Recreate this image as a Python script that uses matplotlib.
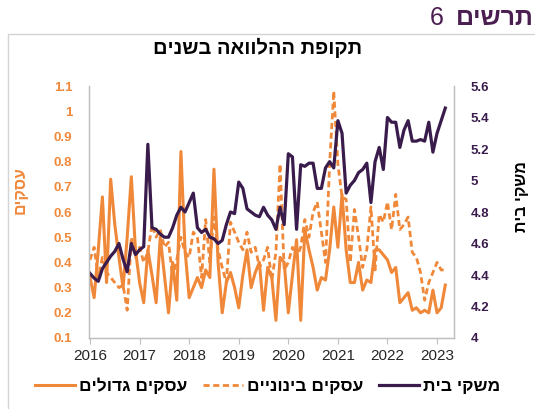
import numpy as np
import matplotlib
matplotlib.use("Agg")
import matplotlib.pyplot as plt
from matplotlib.patches import Rectangle

plt.rcParams['font.family'] = ['Liberation Sans', 'DejaVu Sans']

# matplotlib has no bidi support, so hebrew strings are stored reversed (visual order)
def heb(s):
    return s[::-1]

########################### DATA ###########################
START_YEAR = 2016
years = [2016, 2017, 2018, 2019, 2020, 2021, 2022, 2023]

# households (right axis), monthly Jan 2016 - Mar 2023
households = [4.41, 4.38, 4.36, 4.44, 4.48, 4.52, 4.55, 4.60, 4.50, 4.42, 4.60, 4.53,
              4.56, 4.58, 5.23, 4.70, 4.69, 4.66, 4.64, 4.64, 4.70, 4.78, 4.83, 4.80,
              4.86, 4.92, 4.70, 4.67, 4.69, 4.64, 4.63, 4.60, 4.62, 4.72, 4.80, 4.79,
              4.99, 4.95, 4.82, 4.80, 4.78, 4.77, 4.83, 4.78, 4.75, 4.69, 4.83, 4.72,
              5.17, 5.15, 4.69, 5.10, 5.09, 5.11, 5.11, 4.95, 4.95, 5.08, 5.12, 5.08,
              5.38, 5.30, 4.92, 4.97, 5.00, 5.05, 5.07, 5.11, 4.86, 5.12, 5.21, 5.07,
              5.40, 5.37, 5.37, 5.21, 5.32, 5.38, 5.25, 5.25, 5.26, 5.25, 5.37, 5.18,
              5.30, 5.38, 5.46]

# medium businesses (left axis)
medium = [0.41, 0.46, 0.34, 0.42, 0.36, 0.34, 0.32, 0.30, 0.31, 0.21, 0.50, 0.42,
          0.46, 0.40, 0.44, 0.55, 0.50, 0.53, 0.46, 0.48, 0.34, 0.41, 0.50, 0.44,
          0.42, 0.52, 0.50, 0.34, 0.57, 0.40, 0.58, 0.45, 0.38, 0.32, 0.56, 0.52,
          0.48, 0.45, 0.52, 0.44, 0.46, 0.38, 0.41, 0.46, 0.33, 0.44, 0.79, 0.37,
          0.40, 0.46, 0.42, 0.46, 0.57, 0.50, 0.60, 0.64, 0.52, 0.40, 0.79, 1.08,
          0.79, 0.66, 0.65, 0.40, 0.61, 0.50, 0.38, 0.45, 0.62, 0.37, 0.59, 0.56,
          0.64, 0.53, 0.67, 0.53, 0.55, 0.58, 0.44, 0.42, 0.36, 0.25, 0.32, 0.36,
          0.40, 0.37, 0.37]

# large businesses (left axis)
large = [0.34, 0.26, 0.45, 0.66, 0.32, 0.73, 0.55, 0.42, 0.30, 0.50, 0.74, 0.45,
         0.32, 0.24, 0.45, 0.35, 0.24, 0.50, 0.35, 0.20, 0.40, 0.25, 0.84, 0.45,
         0.26, 0.30, 0.34, 0.30, 0.37, 0.34, 0.77, 0.40, 0.20, 0.32, 0.36, 0.30,
         0.22, 0.35, 0.45, 0.30, 0.36, 0.40, 0.21, 0.38, 0.34, 0.17, 0.42, 0.40,
         0.20, 0.35, 0.49, 0.17, 0.53, 0.45, 0.38, 0.29, 0.34, 0.33, 0.45, 0.62,
         0.46, 0.67, 0.45, 0.32, 0.32, 0.40, 0.29, 0.33, 0.32, 0.45, 0.45, 0.43,
         0.41, 0.36, 0.38, 0.24, 0.26, 0.28, 0.21, 0.22, 0.20, 0.21, 0.20, 0.29,
         0.20, 0.22, 0.31]

left_ticks = [0.1, 0.2, 0.3, 0.4, 0.5, 0.6, 0.7, 0.8, 0.9, 1.0, 1.1]
right_ticks = [4.0, 4.2, 4.4, 4.6, 4.8, 5.0, 5.2, 5.4, 5.6]

fig_title = "תרשים"
fig_number = "6"
chart_title = "תקופת ההלוואה בשנים"
left_label = "עסקים"
right_label = "משקי בית"
lbl_households = "משקי בית"
lbl_medium = "עסקים בינוניים"
lbl_large = "עסקים גדולים"
############################################################

ORANGE = '#F0883A'
PURPLE = '#3A1C4C'
TITLE_PURPLE = '#4A1E50'
GRAY = '#BFBFBF'

x = START_YEAR + np.arange(len(households)) / 12.0

fig = plt.figure(figsize=(5.35, 4.09), dpi=100)
ax = fig.add_axes([0.1664, 0.1736, 0.682, 0.6161])
ax2 = ax.twinx()

l_large, = ax.plot(x, large, c=ORANGE, lw=2.2)
l_med, = ax.plot(x, medium, c=ORANGE, lw=2.0, ls=(0, (2.2, 1.3)))
l_hh, = ax2.plot(x, households, c=PURPLE, lw=2.3)

ax.set_xlim(2015.98, 2023.34)
ax.set_ylim(0.1, 1.1)
ax2.set_ylim(4.0, 5.6)

ax.set_xticks(years)
ax.set_xticklabels([str(y) for y in years])
ax.set_yticks(left_ticks)
ax.set_yticklabels(['%g' % t for t in left_ticks])
ax2.set_yticks(right_ticks)
ax2.set_yticklabels(['%g' % t for t in right_ticks])

ax.tick_params(axis='x', length=4, width=0.8, color=GRAY, labelsize=11, labelcolor='#262626', pad=4)
ax.tick_params(axis='y', length=0, labelsize=9.5, labelcolor=ORANGE, pad=12)
ax2.tick_params(axis='y', length=0, labelsize=9.5, labelcolor=PURPLE, pad=12)
for t in ax.get_yticklabels():
    t.set_fontweight('bold')
for t in ax2.get_yticklabels():
    t.set_fontweight('bold')

for a in (ax, ax2):
    a.spines['top'].set_visible(False)
    for s in ('left', 'right', 'bottom'):
        a.spines[s].set_color(GRAY)
        a.spines[s].set_linewidth(0.9)

# outer frame
fig.patches.append(Rectangle((0.015, -0.01), 1.0, 0.927, transform=fig.transFigure,
                             fill=False, edgecolor='#D4D4D4', lw=1.0))

fig.text(0.997, 0.955, heb(fig_title), ha='right', va='center', fontsize=18,
         fontweight='bold', color=TITLE_PURPLE)
fig.text(0.830, 0.955, fig_number, ha='right', va='center', fontsize=18, color=TITLE_PURPLE)

fig.text(0.482, 0.882, heb(chart_title), ha='center', va='center', fontsize=14.5,
         fontweight='bold', color='black')

fig.text(0.038, 0.535, heb(left_label), rotation=90, ha='center', va='center',
         fontsize=11.5, fontweight='bold', color=ORANGE)
fig.text(0.975, 0.52, heb(right_label), rotation=90, ha='center', va='center',
         fontsize=11.5, fontweight='bold', color='black')

fig.legend([l_large, l_med, l_hh], [heb(lbl_large), heb(lbl_medium), heb(lbl_households)],
           loc='center', bbox_to_anchor=(0.5, 0.056), ncol=3, frameon=False,
           prop={'weight': 'bold', 'size': 12.5}, handlelength=2.3, handletextpad=0.25,
           columnspacing=0.9)

fig.savefig('out.png', dpi=100)
